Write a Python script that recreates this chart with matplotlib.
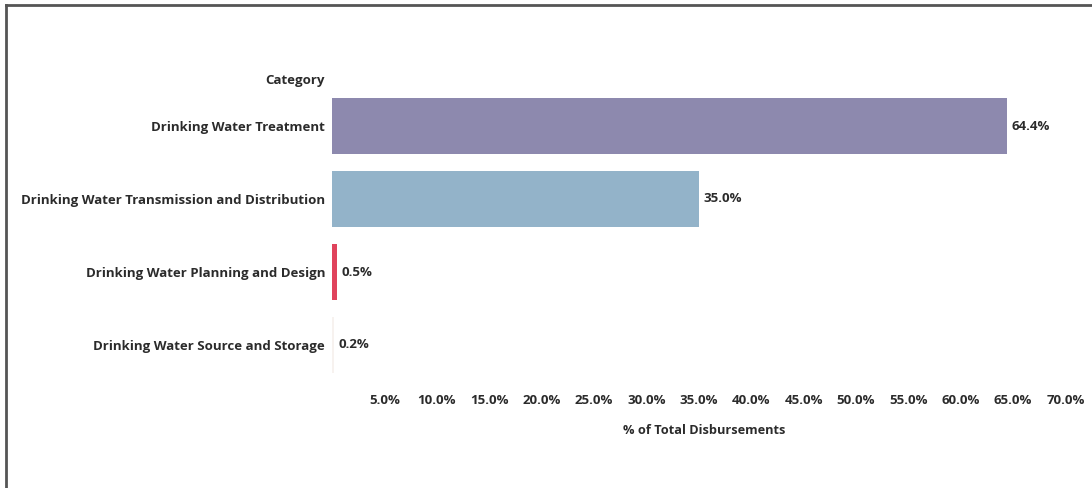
import matplotlib.pyplot as plt
from matplotlib.lines import Line2D

categories = [
    "Drinking Water Treatment",
    "Drinking Water Transmission and Distribution",
    "Drinking Water Planning and Design",
    "Drinking Water Source and Storage",
]
share = [64.4, 35.0, 0.5, 0.2]
bar_colors = ["#8d89ae", "#93b3c9", "#e0435c", "#f7f2ef"]
ticks = [5, 10, 15, 20, 25, 30, 35, 40, 45, 50, 55, 60, 65, 70]

plt.rcParams["font.family"] = ["Open Sans", "DejaVu Sans"]
plt.rcParams["font.weight"] = "bold"
txt = "#2b2b2b"
fs = 9.5

W, H = 1092, 488
fig = plt.figure(figsize=(W / 100, H / 100), dpi=100)
ax = fig.add_axes([332 / W, 1 - 381.5 / H, 744 / W, 292 / H])

y = list(range(len(categories)))
ax.barh(y, share, height=0.76, color=bar_colors)
for yi, v in zip(y, share):
    ax.text(v + 0.4, yi, f"{v:.1f}%", va="center", ha="left",
            fontsize=fs, color=txt, fontweight="bold")

ax.set_xlim(0, 71)
ax.set_ylim(3.5, -0.5)
ax.set_yticks(y)
ax.set_yticklabels(categories, fontsize=fs, color=txt, fontweight="bold")
ax.set_xticks(ticks)
ax.set_xticklabels([f"{t:.1f}%" for t in ticks], fontsize=fs, color=txt,
                   fontweight="bold")
ax.tick_params(length=0, axis="y", pad=5)
ax.tick_params(length=0, axis="x", pad=9)
ax.set_xlabel("% of Total Disbursements", fontsize=fs - 0.3, color=txt,
              fontweight="bold", labelpad=12)
for s in ax.spines.values():
    s.set_visible(False)

fig.text(325 / W, 1 - 81 / H, "Category", ha="right", va="center",
         fontsize=fs, color=txt, fontweight="bold")

# outer frame (left and top edges only visible)
fig.add_artist(Line2D([6 / W, 6 / W], [0, 1 - 5 / H], color="#555555", lw=2))
fig.add_artist(Line2D([6 / W, 1], [1 - 5 / H, 1 - 5 / H], color="#555555", lw=2))

plt.savefig("out.png", dpi=100)
